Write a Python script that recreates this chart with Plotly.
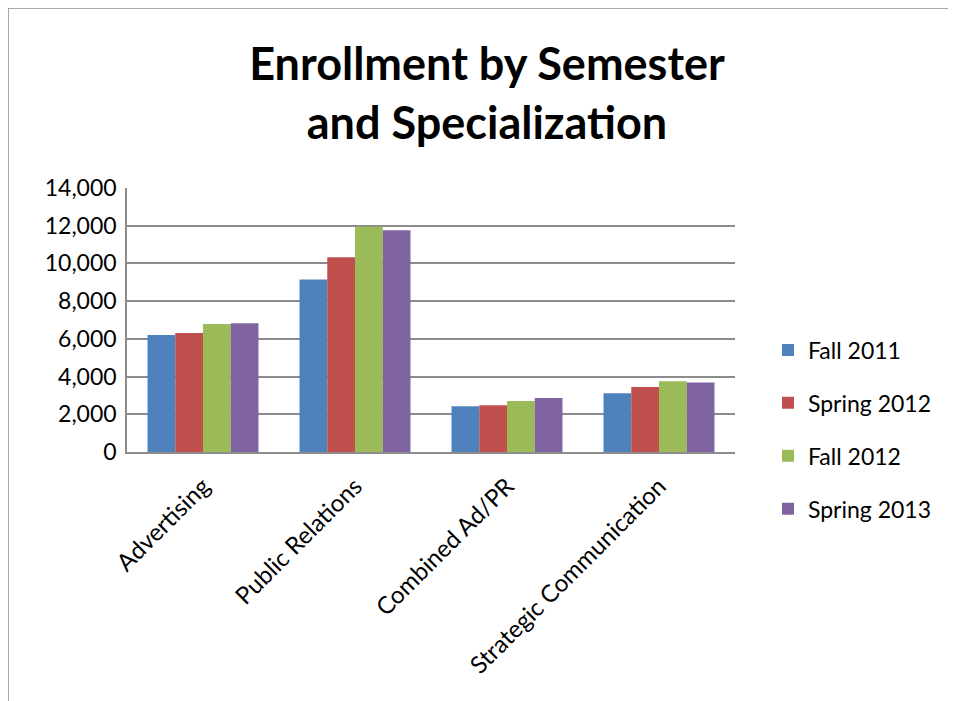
import plotly.graph_objects as go

categories = ["Advertising", "Public Relations", "Combined Ad/PR", "Strategic Communication"]
series_names = ["Fall 2011", "Spring 2012", "Fall 2012", "Spring 2013"]
fall_2011 = [6200, 9150, 2420, 3110]
spring_2012 = [6310, 10330, 2480, 3450]
fall_2012 = [6790, 11950, 2700, 3750]
spring_2013 = [6830, 11760, 2860, 3680]
colors = ["#4F81BD", "#C0504D", "#9BBB59", "#8064A2"]
y_ticks = [0, 2000, 4000, 6000, 8000, 10000, 12000, 14000]

# page body has an 8px margin; figure sized to fill the rest of the window
W, H = 948, 693
L, T = 119, 180
PR, PB = 727, 444  # plot right / bottom in figure pixels
R, B = W - PR, H - PB

fig = go.Figure()
for i, (name, vals) in enumerate(zip(series_names, [fall_2011, spring_2012, fall_2012, spring_2013])):
    fig.add_trace(go.Bar(x=categories, y=vals, name=name, marker_color=colors[i],
                         marker_line_width=0, legendgroup=name))

font_family = "Lato, 'Open Sans', sans-serif"
pw = W - L - R
ph = H - T - B
fig.update_layout(
    width=W, height=H,
    margin=dict(l=L, r=R, t=T, b=B),
    paper_bgcolor="white", plot_bgcolor="white",
    barmode="group", bargap=0.27, bargroupgap=0,
    font=dict(family=font_family, size=23, color="black"),
    title=dict(text="<b>Enrollment by Semester<br>and Specialization</b>",
               x=479 / W, xanchor="center", y=1 - 72 / H, yanchor="middle",
               font=dict(size=45, family=font_family, color="black")),
    legend=dict(x=1 + (760 - PR) / pw, xanchor="left", y=(PB - 421.5) / ph, yanchor="middle",
                traceorder="grouped", tracegroupgap=20,
                font=dict(size=23, family=font_family), itemwidth=30),
    showlegend=True,
)
fig.update_yaxes(range=[0, 14000], tickvals=y_ticks, tickformat=",d",
                 showgrid=True, gridcolor="#8C8C8C", gridwidth=1.5,
                 showline=True, linecolor="#8C8C8C", linewidth=1.5,
                 ticks="", ticklabelstandoff=4,
                 zeroline=False, fixedrange=True, tickfont=dict(size=23))
fig.update_xaxes(tickangle=-45, showline=True, linecolor="#8C8C8C", linewidth=1.5,
                 ticks="", showgrid=False, tickfont=dict(size=24), ticklabelstandoff=9)

x_left = (0 - L) / pw
y_top = (PB - 0) / ph
fig.add_shape(type="line", xref="paper", yref="paper", x0=x_left, x1=x_left, y0=(PB - H) / ph, y1=y_top,
              line=dict(color="#8C8C8C", width=1.5))
fig.add_shape(type="line", xref="paper", yref="paper", x0=x_left, x1=(942 - L) / pw, y0=y_top, y1=y_top,
              line=dict(color="#8C8C8C", width=1.5))

fig.write_html("out.html")
